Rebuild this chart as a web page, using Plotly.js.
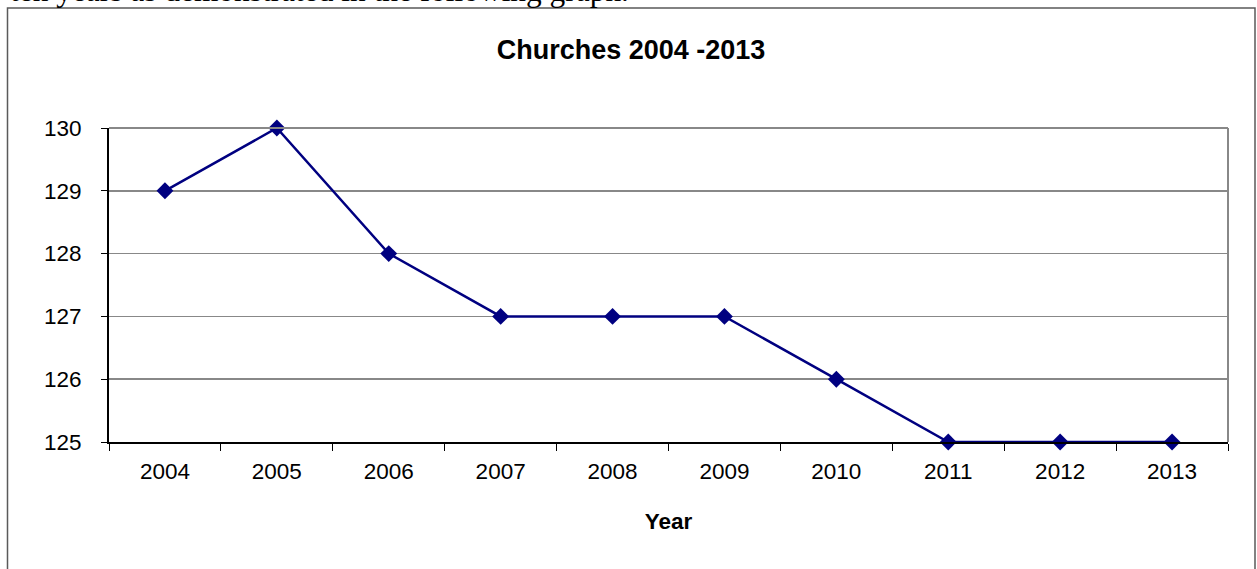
<!DOCTYPE html>
<html>
<head>
<meta charset="utf-8">
<script src="https://cdn.plot.ly/plotly-3.0.1.min.js"></script>
<style>
  html, body { margin: 0; padding: 0; background: #fff; overflow: hidden; }
  #wrap { position: relative; width: 1257px; height: 569px; }
  #lead {
    position: absolute; left: 10px; top: -25px;
    font-family: "Liberation Serif", "Times New Roman", serif;
    font-size: 31.4px; line-height: 31px; color: #000; white-space: nowrap;
  }
  #chart { position: absolute; left: 0; top: 0; width: 1257px; height: 569px; }
</style>
</head>
<body>
<div id="wrap">
  <div id="chart"></div>
  <div id="lead">ten years as demonstrated in the following graph.</div>
</div>
<script>
// Number of churches per year
const years = ['2004', '2005', '2006', '2007', '2008', '2009', '2010', '2011', '2012', '2013'];
const churches = [129, 130, 128, 127, 127, 127, 126, 125, 125, 125];
const yTicks = [125, 126, 127, 128, 129, 130];

const navy = '#000080';
const font = 'Liberation Sans, Arial, sans-serif';

const trace = {
  type: 'scatter',
  mode: 'lines+markers',
  x: years,
  y: churches,
  line: { color: navy, width: 2.5 },
  marker: { symbol: 'diamond', size: 13, color: navy },
  cliponaxis: false,
  hoverinfo: 'x+y'
};

const layout = {
  width: 1257,
  height: 569,
  margin: { l: 109, r: 29, t: 128, b: 127 },
  paper_bgcolor: '#fff',
  plot_bgcolor: '#fff',
  showlegend: false,
  font: { family: font, size: 22, color: '#000' },
  title: {
    text: '<b>Churches 2004 -2013</b>',
    font: { family: font, size: 27, color: '#000' },
    x: 0.502, xref: 'container', xanchor: 'center',
    y: 1 - 50 / 569, yref: 'container', yanchor: 'middle'
  },
  xaxis: {
    type: 'category',
    range: [-0.5, years.length - 0.5],
    tickson: 'boundaries',
    ticks: 'outside', ticklen: 7, tickwidth: 1, tickcolor: '#000',
    showline: true, linecolor: '#000', linewidth: 2,
    showgrid: false, zeroline: false,
    ticklabelstandoff: 8,
    tickfont: { family: font, size: 22.5, color: '#000' },
    title: {
      text: '<b>Year</b>',
      font: { family: font, size: 22.5, color: '#000' },
      standoff: 30
    },
    fixedrange: true
  },
  yaxis: {
    range: [125, 130],
    tickvals: yTicks,
    ticktext: yTicks.map(String),
    ticks: 'outside', ticklen: 6, tickwidth: 1, tickcolor: '#000',
    showline: true, linecolor: '#000', linewidth: 2,
    showgrid: true, gridcolor: '#888888', gridwidth: 1.5,
    zeroline: false,
    ticklabelstandoff: 15,
    tickfont: { family: font, size: 22.5, color: '#000' },
    fixedrange: true
  },
  shapes: [
    // outer frame of the chart
    {
      type: 'rect', xref: 'paper', yref: 'paper', layer: 'below',
      x0: (7.5 - 109) / 1119, x1: (1255 - 109) / 1119,
      y0: (442 - 580) / 314, y1: (442 - 8) / 314,
      line: { color: '#5a5a5a', width: 1.5 }
    },
    // plot area frame: top and right edges
    {
      type: 'line', xref: 'paper', yref: 'paper',
      x0: 0, x1: 1, y0: 1, y1: 1,
      line: { color: '#888888', width: 2 }
    },
    {
      type: 'line', xref: 'paper', yref: 'paper',
      x0: 1, x1: 1, y0: 0, y1: 1,
      line: { color: '#888888', width: 2 }
    }
  ]
};

Plotly.newPlot('chart', [trace], layout, { displayModeBar: false, staticPlot: true });
</script>
</body>
</html>
